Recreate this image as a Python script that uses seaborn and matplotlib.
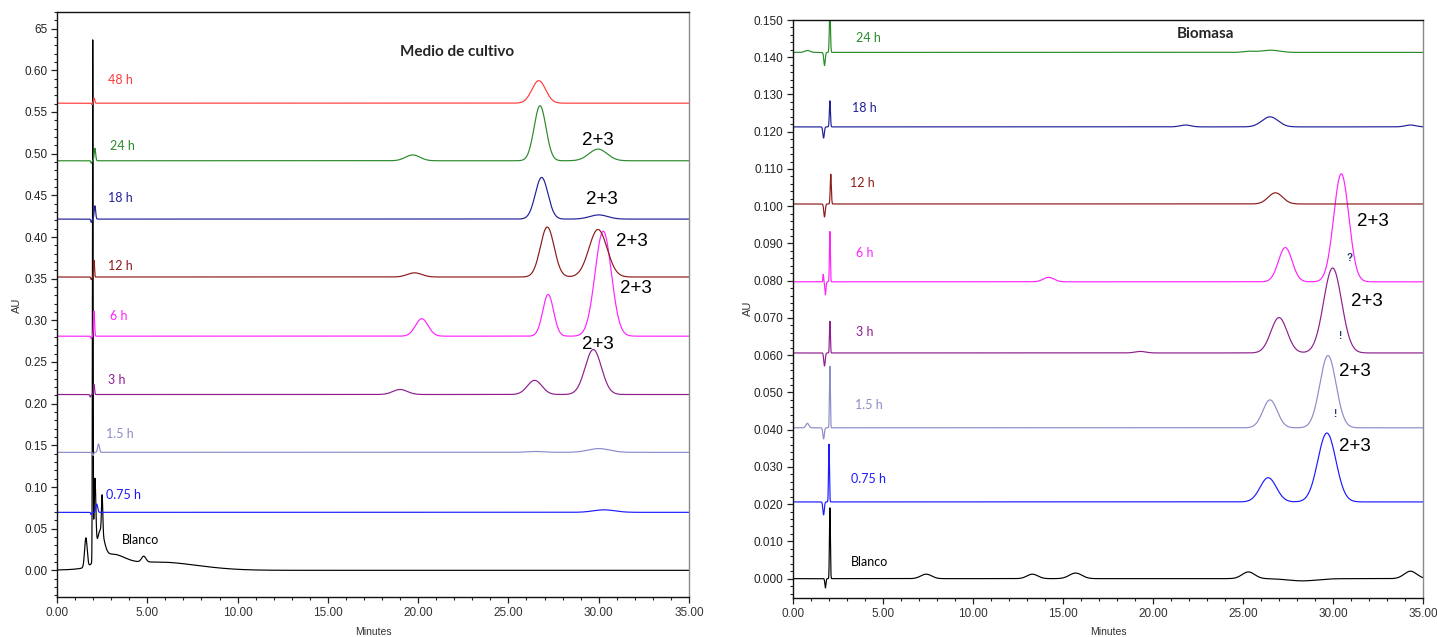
import numpy as np
import pandas as pd
import matplotlib
matplotlib.use("Agg")
import matplotlib.pyplot as plt
import seaborn as sns
from matplotlib import font_manager
from matplotlib.ticker import MultipleLocator, FixedLocator, FixedFormatter

sns.set_theme(style="ticks")
_installed = {f.name for f in font_manager.fontManager.ttflist}
NARROW = next((n for n in ["Liberation Sans Narrow", "DejaVu Sans Condensed", "Liberation Sans"]
               if n in _installed), "DejaVu Sans")
plt.rcParams["font.family"] = [NARROW, "DejaVu Sans"]

# ---------------------------------------------------------------- samples
samples = ["Blanco", "0.75 h", "1.5 h", "3 h", "6 h", "12 h", "18 h", "24 h", "48 h"]
colors = {
    "Blanco": "#000000", "0.75 h": "#1a1aff", "1.5 h": "#8c8cc8", "3 h": "#8e1e8e",
    "6 h": "#ff22ff", "12 h": "#8b1a1a", "18 h": "#1f1f9a", "24 h": "#2a8a2a",
    "48 h": "#ff3a3a",
}

# ------------------------------------------- Medio de cultivo (AU offsets)
medio_samples = ["Blanco", "0.75 h", "1.5 h", "3 h", "6 h", "12 h", "18 h", "24 h", "48 h"]
medio_baseline = [0.000, 0.0696, 0.1416, 0.211, 0.281, 0.352, 0.4215, 0.4915, 0.5606]
# peaks: (retention time [min], height [AU], width [min])
medio_blanco = [(1.6, 0.035, 0.07), (1.98, 0.62, 0.018), (2.1, 0.09, 0.05),
                (2.4, 0.035, 0.2), (2.5, 0.045, 0.035), (3.0, 0.014, 0.7),
                (4.8, 0.007, 0.12), (5.5, 0.010, 2.2)]
medio_075 = [(1.9, -0.003, 0.03), (2.2, 0.010, 0.05), (30.3, 0.003, 0.6)]
medio_15 = [(2.0, -0.004, 0.03), (2.3, 0.010, 0.05), (26.5, 0.001, 0.5), (30.0, 0.0045, 0.6)]
medio_3 = [(1.85, -0.003, 0.03), (2.05, 0.012, 0.03), (19.0, 0.006, 0.4),
           (26.45, 0.017, 0.4), (29.7, 0.054, 0.45)]
medio_6 = [(1.9, -0.003, 0.03), (2.05, 0.03, 0.03), (20.2, 0.021, 0.35),
           (27.2, 0.050, 0.3), (30.25, 0.126, 0.45)]
medio_12 = [(1.9, -0.003, 0.03), (2.05, 0.02, 0.025), (19.8, 0.005, 0.4),
            (27.15, 0.060, 0.38), (29.96, 0.057, 0.5)]
medio_18 = [(1.9, -0.004, 0.03), (2.1, 0.016, 0.04), (26.84, 0.050, 0.35), (30.0, 0.005, 0.5)]
medio_24 = [(1.9, -0.003, 0.03), (2.1, 0.015, 0.04), (19.7, 0.007, 0.4),
            (26.75, 0.066, 0.33), (29.96, 0.014, 0.5)]
medio_48 = [(1.95, -0.002, 0.03), (2.05, 0.006, 0.04), (26.68, 0.027, 0.38)]
medio_peaks = [medio_blanco, medio_075, medio_15, medio_3, medio_6,
               medio_12, medio_18, medio_24, medio_48]
medio_label_pos = [(4.60, 0.036), (3.71, 0.090), (3.49, 0.163), (3.32, 0.228), (3.43, 0.305),
                   (3.49, 0.365), (3.49, 0.447), (3.65, 0.509), (3.54, 0.588)]
medio_23_pos = [(29.96, 0.516), (30.18, 0.445), (31.84, 0.394), (32.07, 0.338), (29.96, 0.271)]

# ---------------------------------------------------- Biomasa (AU offsets)
bio_samples = ["Blanco", "0.75 h", "1.5 h", "3 h", "6 h", "12 h", "18 h", "24 h"]
bio_baseline = [0.000, 0.0206, 0.0405, 0.0606, 0.0797, 0.1006, 0.1213, 0.1413]
bio_blanco = [(1.8, -0.0025, 0.03), (2.05, 0.019, 0.025), (7.4, 0.0012, 0.3),
              (13.3, 0.0012, 0.3), (15.7, 0.0015, 0.35), (25.3, 0.0018, 0.35),
              (28.3, -0.0006, 0.8), (34.3, 0.0020, 0.35)]
bio_075 = [(1.7, -0.0035, 0.04), (2.0, 0.0155, 0.025), (26.4, 0.0065, 0.45), (29.66, 0.0185, 0.5)]
bio_15 = [(0.8, 0.0012, 0.08), (1.7, -0.003, 0.04), (2.05, 0.0165, 0.025),
          (26.5, 0.0075, 0.4), (29.72, 0.0194, 0.45)]
bio_3 = [(1.75, -0.0035, 0.04), (2.05, 0.0085, 0.025), (19.3, 0.0004, 0.3),
         (27.0, 0.0095, 0.45), (29.98, 0.0228, 0.5)]
bio_6 = [(1.68, 0.002, 0.02), (1.8, -0.0035, 0.03), (2.05, 0.0135, 0.025),
         (14.2, 0.0012, 0.3), (27.35, 0.0092, 0.38), (30.46, 0.029, 0.42)]
bio_12 = [(1.75, -0.0035, 0.04), (2.1, 0.008, 0.03), (26.8, 0.003, 0.4)]
bio_18 = [(1.7, -0.003, 0.04), (2.05, 0.007, 0.03), (21.8, 0.0005, 0.3),
          (26.5, 0.0027, 0.45), (34.3, 0.0005, 0.3)]
bio_24 = [(0.8, 0.0005, 0.15), (1.75, -0.0035, 0.04), (2.05, 0.012, 0.03),
          (25.3, 0.0003, 0.3), (26.5, 0.0006, 0.5)]
bio_peaks = [bio_blanco, bio_075, bio_15, bio_3, bio_6, bio_12, bio_18, bio_24]
bio_label_pos = [(4.25, 0.0044), (4.2, 0.0267), (4.2, 0.0466), (3.96, 0.0663),
                 (3.96, 0.0874), (3.85, 0.1063), (3.96, 0.1264), (4.18, 0.1452)]
bio_23_pos = [(32.2, 0.0960), (31.9, 0.0745), (31.2, 0.0555), (31.2, 0.0356)]
bio_marks = [("?", 30.9, 0.0861), ("!", 30.37, 0.0651), ("!", 30.09, 0.0442)]

minutes = np.arange(0.0, 35.0001, 0.01)


def chromatogram(baseline, peaks):
    signal = np.full_like(minutes, baseline)
    for rt, height, width in peaks:
        signal += height * np.exp(-0.5 * ((minutes - rt) / width) ** 2)
    return signal


def long_table(names, baselines, peak_lists):
    frames = [pd.DataFrame({"Minutes": minutes, "AU": chromatogram(b, p), "Muestra": n})
              for n, b, p in zip(names, baselines, peak_lists)]
    return pd.concat(frames, ignore_index=True)


fig = plt.figure(figsize=(14.37, 6.37), dpi=100)
ax1 = fig.add_axes([57 / 1437, 1 - 597 / 637, (689 - 57) / 1437, (597 - 12) / 637])
ax2 = fig.add_axes([793 / 1437, 1 - 598 / 637, (1423 - 793) / 1437, (598 - 20) / 637])

df1 = long_table(medio_samples, medio_baseline, medio_peaks)
df2 = long_table(bio_samples, bio_baseline, bio_peaks)

for ax, df, names in [(ax1, df1, medio_samples), (ax2, df2, bio_samples)]:
    sns.lineplot(data=df, x="Minutes", y="AU", hue="Muestra", hue_order=names,
                 palette=colors, estimator=None, sort=False, lw=0.85,
                 legend=False, ax=ax)
    ax.set_xlim(0, 35)
    ax.xaxis.set_major_locator(MultipleLocator(5))
    ax.xaxis.set_minor_locator(MultipleLocator(1))
    ax.xaxis.set_major_formatter(matplotlib.ticker.FormatStrFormatter("%.2f"))
    ax.set_xlabel("")
    ax.set_ylabel("")
    ax.tick_params(which="major", direction="out", length=4.5, width=0.9,
                   labelsize=8.5, pad=2.5, colors="#222222")
    ax.tick_params(which="minor", direction="out", length=2.5, width=0.8, colors="#222222")
    for side in ["left", "bottom", "top"]:
        ax.spines[side].set_color("#111111")
        ax.spines[side].set_linewidth(1.0)
    ax.spines["right"].set_color("#8a8a8a")
    ax.spines["right"].set_linewidth(1.0)
    for t in ax.get_xticklabels():
        t.set_color("#333333")

# left panel y axis
ax1.set_ylim(-0.032, 0.670)
y1_ticks = np.round(np.arange(0.0, 0.651, 0.05), 2)
y1_labels = [f"{v:.2f}" for v in y1_ticks[:-1]] + ["65"]
ax1.yaxis.set_major_locator(FixedLocator(y1_ticks))
ax1.yaxis.set_major_formatter(FixedFormatter(y1_labels))
ax1.yaxis.set_minor_locator(MultipleLocator(0.01))

# right panel y axis
ax2.set_ylim(-0.0052, 0.150)
y2_ticks = np.round(np.arange(0.0, 0.1501, 0.01), 3)
ax2.yaxis.set_major_locator(FixedLocator(y2_ticks))
ax2.yaxis.set_major_formatter(FixedFormatter([f"{v:.3f}" for v in y2_ticks]))
ax2.yaxis.set_minor_locator(MultipleLocator(0.002))

LABEL_FONT = ["Lato", "DejaVu Sans"]
for name, (x, y) in zip(medio_samples, medio_label_pos):
    ax1.text(x, y, name, color=colors[name], fontsize=9, family=LABEL_FONT,
             ha="center", va="center")
for name, (x, y) in zip(bio_samples, bio_label_pos):
    ax2.text(x, y, name, color=colors[name], fontsize=9, family=LABEL_FONT,
             ha="center", va="center")

for x, y in medio_23_pos:
    ax1.text(x, y, "2+3", fontsize=13.5, family=["Liberation Sans", "DejaVu Sans"],
             ha="center", va="center", color="black")
for x, y in bio_23_pos:
    ax2.text(x, y, "2+3", fontsize=13.5, family=["Liberation Sans", "DejaVu Sans"],
             ha="center", va="center", color="black")
for mark, x, y in bio_marks:
    ax2.text(x, y, mark, fontsize=7, fontweight="bold", color="#1f3a6b",
             ha="center", va="center")

ax1.text(22.15, 0.622, "Medio de cultivo", fontsize=11, fontweight="bold",
         family=LABEL_FONT, ha="center", va="center")
ax2.text(22.9, 0.1463, "Biomasa", fontsize=11, fontweight="bold",
         family=LABEL_FONT, ha="center", va="center")

fig.text(373 / 1437, 1 - 632 / 637, "Minutes", fontsize=7.5, ha="center", va="center",
         color="#333333")
fig.text(1108 / 1437, 1 - 632 / 637, "Minutes", fontsize=7.5, ha="center", va="center",
         color="#333333")
fig.text(17 / 1437, 1 - 305 / 637, "AU", fontsize=8, rotation=90, ha="center",
         va="center", color="#333333")
fig.text(748 / 1437, 1 - 308 / 637, "AU", fontsize=8, rotation=90, ha="center",
         va="center", color="#333333")

fig.savefig("out.png", dpi=100, facecolor="white")
